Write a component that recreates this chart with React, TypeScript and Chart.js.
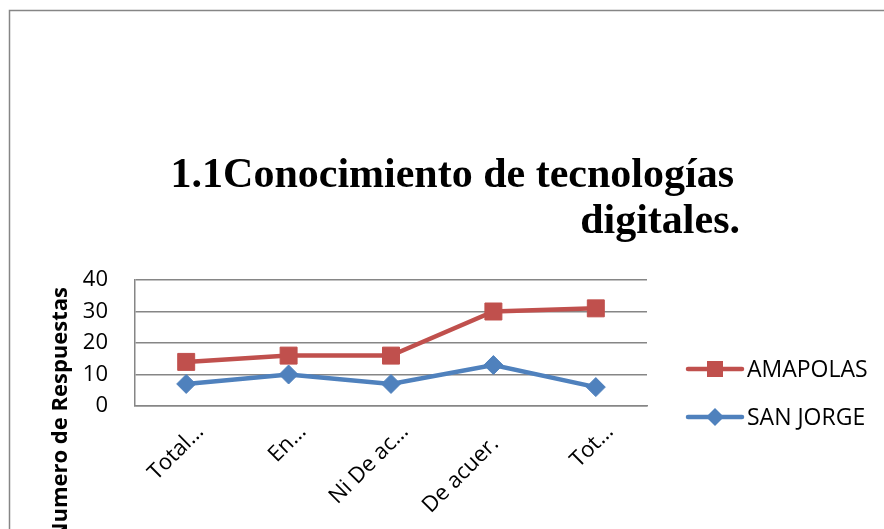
import React, { useEffect, useRef } from 'react';
import { Chart, registerables } from 'chart.js';

Chart.register(...registerables);

const categories = ['Total…', 'En…', 'Ni De ac…', 'De acuer.   ', 'Tot…'];
const amapolas = [14, 16, 16, 30, 31];
const sanJorge = [7, 10, 7, 13, 6];
const yTicks = [0, 10, 20, 30, 40];
const seriesNames = ['AMAPOLAS', 'SAN JORGE'];
const seriesColors = ['#C0504D', '#4F81BD'];
const titleLines = ['1.1Conocimiento de tecnologías', 'digitales.'];
const yAxisTitle = 'Numero de Respuestas';

const SANS = '"Open Sans", "Noto Sans", sans-serif';

const decor = {
  id: 'decor',
  beforeDraw(chart: any) {
    const ctx = chart.ctx;
    ctx.save();
    ctx.fillStyle = '#ffffff';
    ctx.fillRect(0, 0, chart.width, chart.height);
    ctx.strokeStyle = '#868686';
    ctx.lineWidth = 1.5;
    ctx.strokeRect(9.5, 10.5, chart.width + 200, chart.height + 200);
    ctx.restore();
  },
  afterDraw(chart: any) {
    const ctx = chart.ctx;
    ctx.save();
    // title
    ctx.fillStyle = '#000';
    ctx.font = 'bold 42px "Liberation Serif", "Times New Roman", serif';
    ctx.textAlign = 'right';
    ctx.textBaseline = 'alphabetic';
    ctx.fillText(titleLines[0], 734, 187);
    ctx.fillText(titleLines[1], 740, 233);
    // y axis title
    ctx.save();
    ctx.translate(61, 287);
    ctx.rotate(-Math.PI / 2);
    ctx.font = 'bold 22px ' + SANS;
    ctx.textAlign = 'right';
    ctx.textBaseline = 'middle';
    ctx.fillText(yAxisTitle, 0, 0);
    ctx.restore();
    // legend
    chart.data.datasets.forEach((ds: any, i: number) => {
      const y = 369 + i * 48;
      const x0 = 688;
      const x1 = 742;
      const cx = (x0 + x1) / 2;
      ctx.strokeStyle = ds.borderColor;
      ctx.lineWidth = 4.5;
      ctx.lineCap = 'round';
      ctx.beginPath();
      ctx.moveTo(x0, y);
      ctx.lineTo(x1, y);
      ctx.stroke();
      ctx.fillStyle = ds.backgroundColor;
      ctx.beginPath();
      if (ds.pointStyle === 'rect') {
        ctx.rect(cx - 8, y - 8, 16, 16);
      } else {
        ctx.moveTo(cx, y - 9);
        ctx.lineTo(cx + 9, y);
        ctx.lineTo(cx, y + 9);
        ctx.lineTo(cx - 9, y);
        ctx.closePath();
      }
      ctx.fill();
      ctx.fillStyle = '#000';
      ctx.font = '23px ' + SANS;
      ctx.textAlign = 'left';
      ctx.textBaseline = 'middle';
      ctx.fillText(ds.label, 747, y + 1);
    });
    ctx.restore();
  },
};

export default function App() {
  const ref = useRef<HTMLCanvasElement>(null);
  useEffect(() => {
    if (!ref.current) return;
    const chart = new Chart(ref.current, {
      type: 'line',
      data: {
        labels: categories,
        datasets: [
          {
            label: seriesNames[0],
            data: amapolas,
            borderColor: seriesColors[0],
            backgroundColor: seriesColors[0],
            borderWidth: 4.5,
            pointStyle: 'rect',
            pointRadius: 12,
            pointBorderWidth: 1,
            tension: 0,
          },
          {
            label: seriesNames[1],
            data: sanJorge,
            borderColor: seriesColors[1],
            backgroundColor: seriesColors[1],
            borderWidth: 4.5,
            pointStyle: 'rectRot',
            pointRadius: 9.5,
            pointBorderWidth: 1,
            tension: 0,
          },
        ],
      },
      options: {
        responsive: false,
        animation: false,
        events: [],
        layout: { padding: { top: 280, right: 237, left: 0, bottom: 0 } },
        plugins: {
          legend: { display: false },
          tooltip: { enabled: false },
          title: { display: false },
        },
        scales: {
          x: {
            offset: true,
            grid: { display: false, drawTicks: false },
            border: { display: true, color: '#868686', width: 1.5 },
            ticks: {
              minRotation: 45,
              maxRotation: 45,
              autoSkip: false,
              font: { family: SANS, size: 22 },
              color: '#000',
              padding: 13,
              labelOffset: 14,
            },
            afterFit: (s: any) => {
              s.height = 123;
            },
          },
          y: {
            min: yTicks[0],
            max: yTicks[yTicks.length - 1],
            ticks: {
              stepSize: yTicks[1] - yTicks[0],
              padding: 27,
              font: { family: SANS, size: 22 },
              color: '#000',
            },
            grid: { color: '#868686', lineWidth: 1.5, drawTicks: false },
            border: { display: true, color: '#868686', width: 1.5 },
            afterFit: (s: any) => {
              s.width = 135;
            },
          },
        },
      },
      plugins: [decor],
    });
    return () => chart.destroy();
  }, []);
  return (
    <div style={{ position: 'fixed', left: 0, top: 0, width: 884, height: 529, overflow: 'hidden', background: '#fff' }}>
      <canvas ref={ref} width={884} height={529} style={{ display: 'block' }} />
    </div>
  );
}
